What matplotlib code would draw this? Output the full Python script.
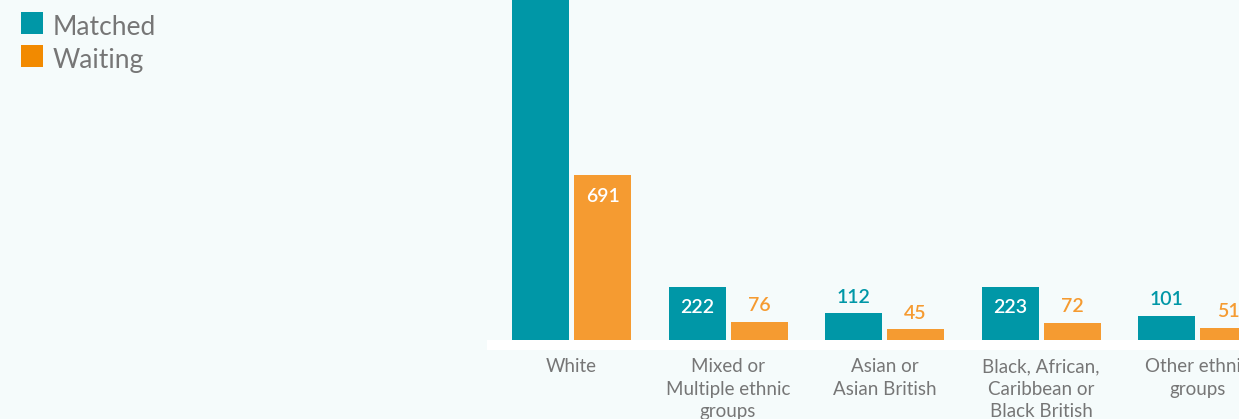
import matplotlib.pyplot as plt
import numpy as np
from matplotlib.patches import Rectangle

# Données
categories = ['White', 'Mixed or\nMultiple ethnic\ngroups', 'Asian or\nAsian British',
              'Black, African,\nCaribbean or\nBlack British', 'Other ethnic\ngroups']
matched = [1850, 222, 112, 223, 101]
waiting = [691, 76, 45, 72, 51]

teal = '#0097a7'
orange = '#f59b31'
orange_leg = '#f28a00'
bg = '#f5fbfb'
gris = '#767676'

plt.rcParams['font.family'] = ['Lato', 'DejaVu Sans']

W, H = 1239, 419
fig = plt.figure(figsize=(W / 100, H / 100), dpi=100, facecolor=bg)

# axes: x de 487 à 1239 px, y de 350 px (bas de la bande blanche) à 0
ax = fig.add_axes([487 / W, (H - 350) / H, (W - 487) / W, 350 / H])
ax.set_facecolor(bg)
px_per_unit = 165 / 691
ymax = 340 / px_per_unit
ax.set_ylim(-10 / px_per_unit, ymax)
ax.set_xlim(-0.54, 4.265)

x = np.arange(len(categories))
bw = 57 / 156.5
off = 31 / 156.5
b1 = ax.bar(x - off, matched, bw, color=teal)
b2 = ax.bar(x + off, waiting, bw, color=orange)

# bande blanche sous les barres
ax.axhspan(-10 / px_per_unit, 0, color='white', lw=0, zorder=3)

for bars, vals, col in [(b1, matched, teal), (b2, waiting, orange)]:
    for b, v in zip(bars, vals):
        cx = b.get_x() + b.get_width() / 2
        if v > 150:
            ytxt = v - 21 / px_per_unit
            if ytxt > ymax:
                continue  # étiquette hors du cadre (comme dans l'original)
            ax.text(cx, ytxt, str(v), ha='center', va='center',
                    color='white', fontsize=14, fontweight='semibold')
        else:
            ax.text(cx, v + 16 / px_per_unit, str(v), ha='center', va='center',
                    color=col, fontsize=14, fontweight='semibold')

ax.set_xticks(x)
ax.set_xticklabels(categories, color=gris, fontsize=13.5, linespacing=1.38)
ax.tick_params(axis='x', length=0, pad=6)
ax.set_yticks([])
for s in ax.spines.values():
    s.set_visible(False)

# légende
for i, (lab, col) in enumerate([('Matched', teal), ('Waiting', orange_leg)]):
    y0 = 12 + i * 33
    fig.add_artist(Rectangle((21 / W, (H - y0 - 22) / H), 22 / W, 22 / H,
                             transform=fig.transFigure, color=col, lw=0))
    fig.text(53 / W, (H - y0 - 13) / H, lab, color=gris, fontsize=19,
             ha='left', va='center_baseline')

fig.savefig('out.png', dpi=100, facecolor=bg)
